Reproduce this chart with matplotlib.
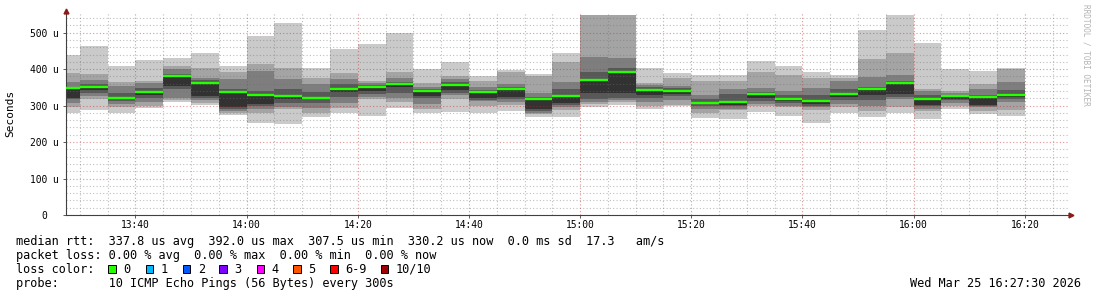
import numpy as np
import matplotlib
matplotlib.use("Agg")
import matplotlib.pyplot as plt
from matplotlib.patches import Rectangle

# ---------------- data ----------------
times = ["13:30", "13:35", "13:40", "13:45", "13:50", "13:55", "14:00", "14:05", "14:10",
         "14:15", "14:20", "14:25", "14:30", "14:35", "14:40", "14:45", "14:50", "14:55",
         "15:00", "15:05", "15:10", "15:15", "15:20", "15:25", "15:30", "15:35", "15:40",
         "15:45", "15:50", "15:55", "16:00", "16:05", "16:10", "16:15", "16:20"]

# 10 pings per 5-min interval, sorted, in microseconds
ping1 = [281, 288, 279, 293, 311, 302, 274, 253, 250, 270, 279, 272, 294, 281, 283, 281, 285, 268,
         268, 295, 302, 291, 299, 267, 263, 283, 272, 253, 279, 270, 279, 263, 290, 276, 272]
ping2 = [297, 318, 295, 300, 316, 308, 281, 281, 292, 281, 293, 318, 310, 291, 318, 300, 303, 277,
         288, 304, 310, 300, 303, 280, 288, 300, 295, 288, 297, 285, 295, 285, 300, 285, 289]
ping3 = [308, 326, 305, 310, 322, 315, 285, 290, 297, 294, 308, 325, 320, 305, 330, 312, 310, 280,
         295, 310, 316, 310, 315, 292, 292, 305, 300, 295, 305, 300, 318, 290, 308, 295, 309]
ping4 = [318, 335, 312, 322, 345, 322, 290, 300, 308, 306, 325, 332, 335, 320, 335, 315, 318, 285,
         302, 317, 320, 320, 326, 300, 298, 312, 308, 300, 315, 315, 323, 298, 315, 300, 318]
ping5 = [322, 343, 317, 330, 354, 326, 297, 304, 318, 318, 338, 340, 350, 326, 343, 322, 325, 290,
         308, 334, 334, 329, 332, 305, 303, 320, 314, 305, 325, 330, 332, 302, 318, 303, 325]
ping6 = [345, 352, 322, 339, 378, 362, 338, 328, 328, 322, 346, 352, 358, 341, 358, 337, 346, 319,
         328, 371, 393, 344, 342, 311, 312, 331, 320, 315, 334, 346, 364, 320, 327, 324, 332]
ping7 = [352, 358, 335, 347, 387, 370, 345, 340, 345, 337, 358, 356, 365, 345, 365, 342, 350, 325,
         345, 393, 402, 350, 348, 318, 332, 337, 328, 330, 345, 352, 368, 330, 330, 330, 343]
ping8 = [366, 370, 354, 361, 400, 377, 373, 395, 373, 359, 373, 362, 377, 352, 372, 352, 359, 335,
         366, 434, 430, 356, 354, 329, 345, 347, 340, 349, 367, 379, 384, 340, 335, 345, 366]
ping9 = [389, 387, 364, 368, 410, 402, 393, 414, 402, 375, 390, 367, 393, 363, 381, 367, 393, 380,
         420, 580, 570, 363, 375, 368, 368, 393, 384, 377, 377, 428, 445, 345, 341, 359, 401]
ping10 = [439, 463, 409, 425, 431, 445, 409, 491, 526, 402, 454, 469, 500, 400, 420, 380, 398, 387,
          445, 620, 650, 402, 390, 384, 384, 422, 410, 393, 384, 507, 600, 473, 400, 395, 403]
median = [347, 351, 320, 338, 380, 363, 338, 328, 326, 320, 345, 352, 358, 341, 357, 336, 346, 318,
          327, 371, 392, 344, 341, 308, 311, 331, 319, 314, 333, 345, 363, 319, 327, 323, 330]
smoke_max = 548  # smokeping clipping value

ytick_vals = [0, 100, 200, 300, 400, 500]
ytick_labels = ["0  ", "100 u", "200 u", "300 u", "400 u", "500 u"]
xtick_labels = ["13:40", "14:00", "14:20", "14:40", "15:00", "15:20", "15:40", "16:00", "16:20"]

loss_labels = ["0", "1", "2", "3", "4", "5", "6-9", "10/10"]
loss_colors = ["#26ff00", "#00b8ff", "#0059ff", "#7e00ff", "#ff00ff", "#ff5500", "#ff0000", "#a10000"]

legend_line1 = "median rtt:  337.8 us avg  392.0 us max  307.5 us min  330.2 us now  0.0 ms sd  17.3   am/s"
legend_line2 = "packet loss: 0.00 % avg  0.00 % max  0.00 % min  0.00 % now"
legend_line3 = "loss color:"
legend_line4 = "probe:       10 ICMP Echo Pings (56 Bytes) every 300s"
date_text = "Wed Mar 25 16:27:30 2026"
watermark = "RRDTOOL / TOBI OETIKER"

# ---------------- layout ----------------
W, H = 1097, 297
FONT = "DejaVu Sans Mono"
plt.rcParams["font.family"] = [FONT, "DejaVu Sans"]

start_min = 13 * 60 + 27.5


def tmin(s):
    h, m = s.split(":")
    return int(h) * 60 + int(m) - start_min


fig = plt.figure(figsize=(W / 100, H / 100), dpi=100)
fig.patch.set_facecolor("white")

ax_left, ax_right, ax_top, ax_bot = 66, 1068, 12, 215
ax = fig.add_axes([ax_left / W, (H - ax_bot) / H, (ax_right - ax_left) / W, (ax_bot - ax_top) / H])
ax.set_facecolor("white")
px_per_min = 5.558
px_per_u = 0.3646
ax.set_xlim(0, (ax_right - ax_left) / px_per_min)
ax.set_ylim(0, (ax_bot - ax_top) / px_per_u)

# bar edges
ends = np.array([tmin(t) for t in times], dtype=float)
starts = np.maximum(ends - 5, 0)
edges = np.append(starts, ends[-1])

pings = [np.minimum(np.array(p, dtype=float), smoke_max) for p in
         [ping1, ping2, ping3, ping4, ping5, ping6, ping7, ping8, ping9, ping10]]
half = 5
for ibot in range(1, half + 1):
    itop = 11 - ibot
    c = int(190 / half * (half - ibot)) + 50
    col = "#%02x%02x%02x" % (c, c, c)
    lo = np.append(pings[ibot - 1], pings[ibot - 1][-1])
    hi = np.append(pings[itop - 1], pings[itop - 1][-1])
    ax.fill_between(edges, lo, hi, step="post", color=col, linewidth=0, zorder=1)

# grid (drawn over the smoke)
xmax = ax.get_xlim()[1]
ymax = ax.get_ylim()[1]
dash = (0, (1, 2))
for v in range(20, int(ymax) + 1, 20):
    if v % 100 == 0:
        ax.axhline(v, color="#c82828", alpha=0.5, lw=0.8, ls=dash, zorder=1.5)
    else:
        ax.axhline(v, color="#707070", alpha=0.45, lw=0.8, ls=dash, zorder=1.5)
m = tmin("13:30")
while m < xmax:
    if (m + start_min) % 20 == 0:
        ax.axvline(m, color="#c82828", alpha=0.5, lw=0.8, ls=dash, zorder=1.5)
    else:
        ax.axvline(m, color="#707070", alpha=0.45, lw=0.8, ls=dash, zorder=1.5)
    m += 5

# median line
ax.hlines(median, starts, ends, colors=loss_colors[0], linewidth=1.7, zorder=3, capstyle="butt")

# axes styling
for s in ["top", "right"]:
    ax.spines[s].set_visible(False)
for s in ["left", "bottom"]:
    ax.spines[s].set_color("#404040")
    ax.spines[s].set_linewidth(0.8)

ax.set_yticks(ytick_vals)
ax.set_yticklabels(ytick_labels, fontsize=6.9, family=FONT)
ax.set_xticks([tmin(t) for t in xtick_labels])
ax.set_xticklabels(xtick_labels, fontsize=6.9, family=FONT)
ax.tick_params(axis="y", length=2, width=0.6, pad=3.0, color="#404040")
ax.tick_params(axis="x", length=2, width=0.6, pad=1.8, color="#404040")

ax.set_ylabel("Seconds", fontsize=8, family=FONT, labelpad=0)
ax.yaxis.set_label_coords((15 - ax_left) / (ax_right - ax_left), (ax_bot - 113.5) / (ax_bot - ax_top))

# arrows
ax.plot([0], [1.0 + 1.5 / (ax_bot - ax_top)], marker="^", markersize=3.5, color="#8b1a1a",
        transform=ax.transAxes, clip_on=False, zorder=5)
ax.plot([1.0 + 3 / (ax_right - ax_left)], [0], marker=">", markersize=3.5, color="#8b1a1a",
        transform=ax.transAxes, clip_on=False, zorder=5)

# watermark
fig.text(1086 / W, 1 - 4 / H, watermark, rotation=-90, ha="center", va="top",
         fontsize=5.6, color="#b4b4b4", family=FONT)

# legend
fs = 8.55
fig.text(16 / W, 1 - 241.3 / H, legend_line1, fontsize=fs, va="center", ha="left", family=FONT)
fig.text(16 / W, 1 - 255.3 / H, legend_line2, fontsize=fs, va="center", ha="left", family=FONT)
fig.text(16 / W, 1 - 269.3 / H, legend_line3, fontsize=fs, va="center", ha="left", family=FONT)
fig.text(16 / W, 1 - 283.7 / H, legend_line4, fontsize=fs, va="center", ha="left", family=FONT)
fig.text(1081 / W, 1 - 283.7 / H, date_text, fontsize=fs, va="center", ha="right", family=FONT)

box_x = [108.3, 145.7, 182.7, 219.0, 256.7, 293.3, 330.0, 380.7]
for bx, lab, col in zip(box_x, loss_labels, loss_colors):
    fig.add_artist(Rectangle((bx / W, 1 - 273 / H), 7.7 / W, 7.7 / H, transform=fig.transFigure,
                             facecolor=col, edgecolor="black", linewidth=0.7))
    fig.text((bx + 15) / W, 1 - 269.3 / H, lab, fontsize=fs, va="center", ha="left", family=FONT)

fig.savefig("out.png", dpi=100, facecolor="white")
